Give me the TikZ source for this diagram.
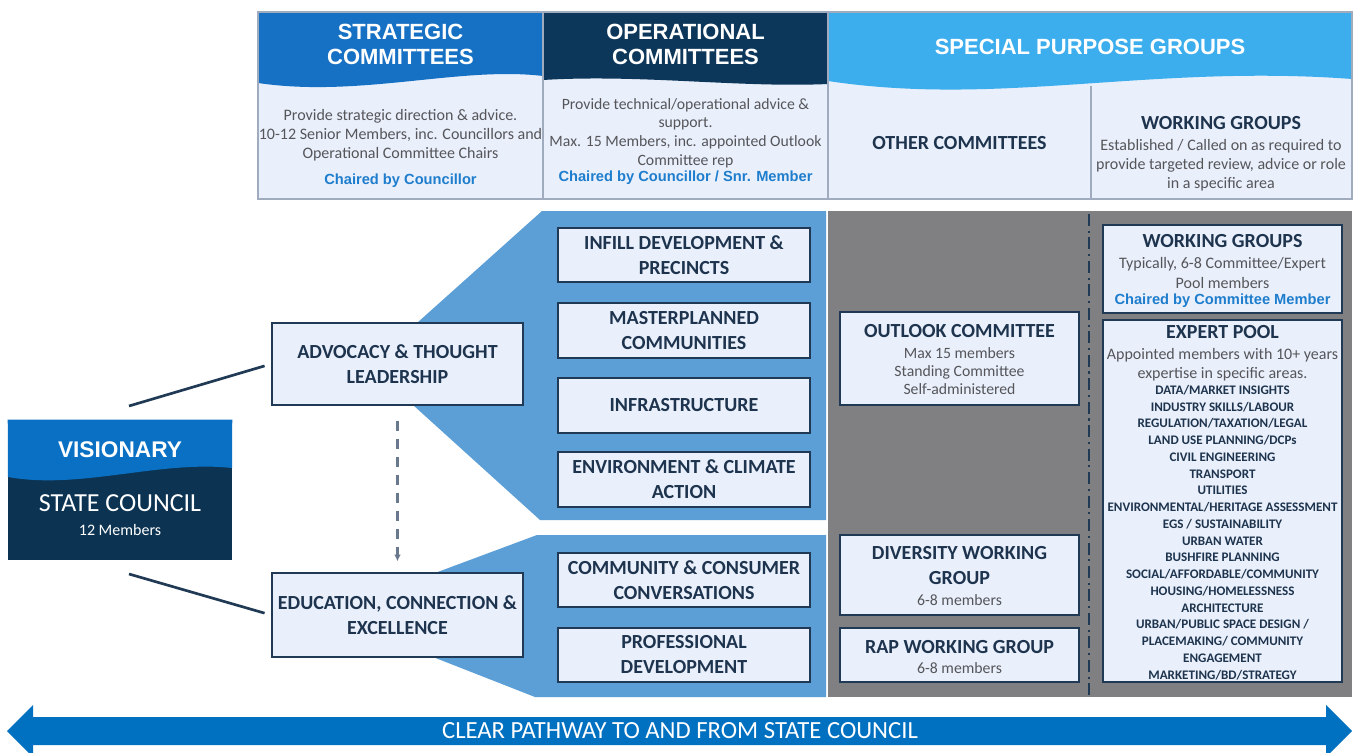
\documentclass[tikz,border=0pt]{standalone}
\usepackage{fontspec}
\setmainfont{Carlito}
\newfontfamily\arialf{Liberation Sans}
\usetikzlibrary{fit,arrows.meta}
\definecolor{stratblue}{RGB}{22,112,196}
\definecolor{opnavy}{RGB}{13,55,90}
\definecolor{spblue}{RGB}{60,174,238}
\definecolor{panel}{RGB}{233,240,251}
\definecolor{midblue}{RGB}{92,158,214}
\definecolor{panelgray}{RGB}{128,128,130}
\definecolor{navytxt}{RGB}{30,52,78}
\definecolor{bodytxt}{RGB}{85,85,90}
\definecolor{chairblue}{RGB}{30,125,205}
\definecolor{boxedge}{RGB}{32,58,85}
\definecolor{arrowblue}{RGB}{0,112,192}
\definecolor{visblue}{RGB}{10,112,196}
\definecolor{visnavy}{RGB}{12,52,82}
\definecolor{panelline}{RGB}{160,172,190}
\definecolor{dashgray}{RGB}{105,120,140}
\newcommand\dgTtl{\fontsize{15}{18.75}\selectfont\bfseries}
\newcommand\dgBody{\fontsize{12}{14.4}\selectfont}
\newcommand\dgBodyS{\fontsize{11.8}{13.5}\selectfont}
\newcommand\dgChair{\arialf\fontsize{11}{13}\selectfont\bfseries}
\newcommand\dgHdr{\arialf\fontsize{16.5}{18.75}\selectfont\bfseries}
\newcommand\dgList{\fontsize{9.8}{12.57}\selectfont\bfseries}
\newcommand\dgVis{\arialf\fontsize{17}{20}\selectfont\bfseries}
\newcommand\dgSC{\fontsize{19.5}{22}\selectfont}
\newcommand\dgSm{\fontsize{12}{14}\selectfont}
\newcommand\dgPath{\fontsize{18.5}{20}\selectfont}
\begin{document}
\begin{tikzpicture}[x=0.75pt,y=-0.75pt,
  cbox/.style={draw=boxedge,line width=1.5pt,fill=panel,inner sep=0pt},
  ttl/.style={align=center,text=navytxt,font=\dgTtl,inner sep=0pt},
  body/.style={align=center,text=bodytxt,font=\dgBody,inner sep=0pt},
  chair/.style={text=chairblue,font=\dgChair,inner sep=0pt},
  hdr/.style={text=white,align=center,font=\dgHdr,inner sep=0pt},
  lst/.style={align=center,text=navytxt,font=\dgList,inner sep=0pt},
  conn/.style={draw=boxedge,line width=2pt},
  dasharrow/.style={draw=dashgray,line width=1.6pt,dash pattern=on 7.5pt off 6pt,-{Latex[length=5pt,width=5pt]}},
  pline/.style={draw=panelline,line width=0.8pt}
]
\useasboundingbox (0,0) rectangle (1357,753);
\fill[white] (0,0) rectangle (1357,753);

% ---------- top panels ----------
\fill[panel] (258,60) rectangle (1352,199);
\fill[stratblue] (258,12) -- (543,12) -- (543,76) .. controls (460,66) and (360,98) .. (258,83) -- cycle;
\fill[opnavy] (543,12) -- (828,12) -- (828,84) .. controls (740,88) and (640,74) .. (543,80) -- cycle;
\fill[spblue] (828,12) -- (1352,12) -- (1352,79) .. controls (1150,64) and (1000,107) .. (828,81) -- cycle;
\draw[pline] (543,12) -- (543,199);
\draw[pline] (828,12) -- (828,199);
\draw[pline] (1091,86) -- (1091,199);
\draw[pline] (258,12) rectangle (1352,199);

\node[hdr] (sth) at (400.5,44.5) {STRATEGIC\\COMMITTEES};
\node[hdr] (oph) at (685.5,44.5) {OPERATIONAL\\COMMITTEES};
\node[hdr] (sph) at (1090,47) {SPECIAL PURPOSE GROUPS};

\node[body] (stB) at (400.5,135) {Provide strategic direction \& advice.\\10-12 Senior Members, inc. Councillors and\\Operational Committee Chairs};
\node[chair] (stC) at (400.5,181) {Chaired by Councillor};
\node[body,font=\fontsize{11.8}{14}\selectfont] (opB) at (685.5,133) {Provide technical/operational advice \&\\support.\\Max. 15 Members, inc. appointed Outlook\\Committee rep};
\node[chair] (opC) at (685.5,178) {Chaired by Councillor / Snr. Member};
\node[ttl] (othT) at (959.5,143) {OTHER COMMITTEES};
\node[ttl] (wgT) at (1221,123) {WORKING GROUPS};
\node[body] (wgB) at (1221,165) {Established / Called on as required to\\provide targeted review, advice or role\\in a specific area};

% ---------- middle backgrounds ----------
\fill[panelgray] (828,211) rectangle (1352,697);
\fill[midblue] (542,211) -- (826,211) -- (826,520) -- (540,520) -- (413,405) -- (417,323) -- cycle;
\fill[midblue] (537,535) -- (826,535) -- (826,697) -- (535,697) -- (433,657) -- (435,573) -- cycle;
\draw[draw=boxedge,line width=2pt,dash pattern=on 9pt off 3.5pt on 1.6pt off 3.5pt] (1089,214) -- (1089,695);

% ---------- boxes ----------
\node[cbox,fit={(272,323)(523,405)}] (adv) {};
\node[ttl] (advT) at (adv.center) {ADVOCACY \& THOUGHT\\LEADERSHIP};
\node[cbox,fit={(272,573)(523,657)}] (edu) {};
\node[ttl] (eduT) at (edu.center) {EDUCATION, CONNECTION \&\\EXCELLENCE};
\node[cbox,fit={(558,228)(810,282)}] (infill) {};
\node[ttl] (infillT) at (infill.center) {INFILL DEVELOPMENT \&\\PRECINCTS};
\node[cbox,fit={(558,303)(810,358)}] (master) {};
\node[ttl] (masterT) at (master.center) {MASTERPLANNED\\COMMUNITIES};
\node[cbox,fit={(558,378)(810,433)}] (infra) {};
\node[ttl] (infraT) at (infra.center) {INFRASTRUCTURE};
\node[cbox,fit={(558,452)(810,507)}] (env) {};
\node[ttl] (envT) at (env.center) {ENVIRONMENT \& CLIMATE\\ACTION};
\node[cbox,fit={(558,553)(810,607)}] (comm) {};
\node[ttl] (commT) at (comm.center) {COMMUNITY \& CONSUMER\\CONVERSATIONS};
\node[cbox,fit={(558,628)(810,682)}] (prof) {};
\node[ttl] (profT) at (prof.center) {PROFESSIONAL\\DEVELOPMENT};

\node[cbox,fit={(840,312)(1079,405)}] (outlook) {};
\node[ttl] (outT) at (959.5,331) {OUTLOOK COMMITTEE};
\node[body,font=\dgBodyS] (outB) at (959.5,371) {Max 15 members\\Standing Committee\\Self-administered};

\node[cbox,fit={(840,535)(1079,615)}] (div) {};
\node[ttl] (divT) at (959.5,565.5) {DIVERSITY WORKING\\GROUP};
\node[body,font=\dgBodyS] (divB) at (959.5,600) {6-8 members};

\node[cbox,fit={(840,628)(1079,682)}] (rap) {};
\node[ttl] (rapT) at (959.5,647) {RAP WORKING GROUP};
\node[body,font=\dgBodyS] (rapB) at (959.5,668) {6-8 members};

\node[cbox,fit={(1103,225)(1342,313)}] (wg2) {};
\node[ttl] (wg2T) at (1222.5,241) {WORKING GROUPS};
\node[body] (wg2B) at (1222.5,273) {Typically, 6-8 Committee/Expert\\Pool members};
\node[chair] (wg2C) at (1222.5,301) {Chaired by Committee Member};

\node[cbox,fit={(1103,320)(1342,682)}] (expert) {};
\node[ttl] (expT) at (1222.5,332) {EXPERT POOL};
\node[body] (expB) at (1222.5,364.5) {Appointed members with 10+ years\\expertise in specific areas.};
\node[lst] (expL) at (1222.5,532.5) {DATA/MARKET INSIGHTS\\INDUSTRY SKILLS/LABOUR\\REGULATION/TAXATION/LEGAL\\LAND USE PLANNING/DCPs\\CIVIL ENGINEERING\\TRANSPORT\\UTILITIES\\ENVIRONMENTAL/HERITAGE ASSESSMENT\\EGS / SUSTAINABILITY\\URBAN WATER\\BUSHFIRE PLANNING\\SOCIAL/AFFORDABLE/COMMUNITY\\HOUSING/HOMELESSNESS\\ARCHITECTURE\\URBAN/PUBLIC SPACE DESIGN /\\PLACEMAKING/ COMMUNITY\\ENGAGEMENT\\MARKETING/BD/STRATEGY};

% ---------- state council ----------
\node[fill=visnavy,inner sep=0pt,fit={(8,420)(232,560)}] (vis) {};
\fill[visblue] (vis.north west) -- (vis.north east) -- (232,468) .. controls (160,460) and (80,490) .. (8,477) -- cycle;
\node[text=white,font=\dgVis,inner sep=0pt] (visT) at (120,450) {VISIONARY};
\node[text=white,font=\dgSC,inner sep=0pt] (scT) at (120,503) {STATE COUNCIL};
\node[text=white,font=\dgSm,inner sep=0pt] (scM) at (120,530) {12 Members};

% ---------- connectors ----------
\coordinate (v1) at (129,406);
\coordinate (v2) at (129,574);
\draw[conn,shorten >=5pt] (v1) -- (adv.west);
\draw[conn,shorten >=5pt] (v2) -- (edu.west);
\draw[dasharrow,shorten <=11pt,shorten >=8pt] (adv.south) -- (edu.north);

% ---------- bottom arrow ----------
\fill[arrowblue] (7,731) -- (33,705) -- (33,717) -- (1326,717) -- (1326,705) -- (1352,731) -- (1326,757) -- (1326,745) -- (33,745) -- (33,757) -- cycle;
\node[text=white,font=\dgPath,inner sep=0pt] (pathT) at (680,731) {CLEAR PATHWAY TO AND FROM STATE COUNCIL};
\end{tikzpicture}
\end{document}
